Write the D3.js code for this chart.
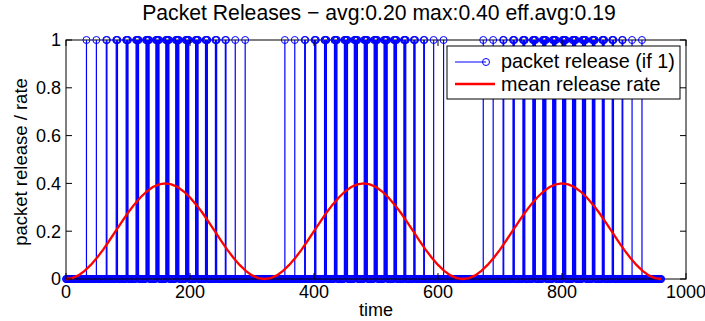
<!DOCTYPE html>
<html><head><meta charset="utf-8">
<script src="https://cdn.jsdelivr.net/npm/d3@7"></script>
<style>body{margin:0;background:#fff}svg{display:block}text{font-family:"Liberation Sans",Arial,sans-serif;fill:#000}</style>
</head><body><svg id="c" width="705" height="321"></svg>
<script>
// ---- data ----
const timeRange = [0, 960];                       // sampled time steps
const releaseStarts = [33,49,65,81,97,113,129,145,161,177,193,209,225,241,257,273,289,
  353,369,385,401,417,433,449,465,481,497,513,529,545,561,577,593,609,
  673,689,705,721,737,753,769,785,801,817,833,849,865,881,897,913,929];
const releaseCounts = [1,1,2,3,4,5,6,6,6,6,6,5,4,3,2,1,1,
  1,1,2,3,4,5,6,6,6,6,6,5,4,3,2,1,1,
  1,1,2,3,4,5,6,6,6,6,6,5,4,3,2,1,1];
const rateTimes = d3.range(0, 961, 10);
const rateValues = [0,0.004,0.015,0.034,0.059,0.089,0.123,0.161,0.200,0.239,0.277,0.311,0.341,0.366,0.385,0.396,0.400,0.396,0.385,0.366,0.341,0.311,0.277,0.239,0.200,0.161,0.123,0.089,0.059,0.034,0.015,0.004,
  0,0.004,0.015,0.034,0.059,0.089,0.123,0.161,0.200,0.239,0.277,0.311,0.341,0.366,0.385,0.396,0.400,0.396,0.385,0.366,0.341,0.311,0.277,0.239,0.200,0.161,0.123,0.089,0.059,0.034,0.015,0.004,
  0,0.004,0.015,0.034,0.059,0.089,0.123,0.161,0.200,0.239,0.277,0.311,0.341,0.366,0.385,0.396,0.400,0.396,0.385,0.366,0.341,0.311,0.277,0.239,0.200,0.161,0.123,0.089,0.059,0.034,0.015,0.004,0];
const xTicks = [0,200,400,600,800,1000];
const yTicks = [0,0.2,0.4,0.6,0.8,1];
const titleText = "Packet Releases \u2212 avg:0.20 max:0.40 eff.avg:0.19";
const legendLabels = ["packet release (if 1)", "mean release rate"];

// ---- build samples ----
const ones = new Set();
releaseStarts.forEach((s,i)=>{ for(let k=0;k<releaseCounts[i];k++) ones.add(s+k); });
const samples = d3.range(timeRange[0], timeRange[1]+1).map(t=>({t, v: ones.has(t)?1:0}));

const svg = d3.select("#c");
const L=66,R=686,T=40,B=279;
const x = d3.scaleLinear().domain([0,1000]).range([L,R]);
const y = d3.scaleLinear().domain([0,1]).range([B,T]);
const blue="#0000ff", red="#ff0000";
const fs=18;

// box
svg.append("rect").attr("x",L).attr("y",T).attr("width",R-L).attr("height",B-T).attr("fill","none").attr("stroke","#000").attr("stroke-width",1);

// stems
const g = svg.append("g");
g.selectAll("line.s").data(samples.filter(d=>d.v>0)).enter().append("line")
  .attr("x1",d=>x(d.t)).attr("x2",d=>x(d.t)).attr("y1",y(0)).attr("y2",d=>y(d.v))
  .attr("stroke",blue).attr("stroke-width",1.2);
g.selectAll("circle").data(samples).enter().append("circle")
  .attr("cx",d=>x(d.t)).attr("cy",d=>y(d.v)).attr("r",3.5)
  .attr("fill","none").attr("stroke",blue).attr("stroke-width",1);
// baseline
svg.append("line").attr("x1",x(0)).attr("x2",x(timeRange[1])).attr("y1",y(0)).attr("y2",y(0)).attr("stroke","#000");

// mean rate
svg.append("path").datum(rateTimes.map((t,i)=>[t,rateValues[i]]))
  .attr("d", d3.line().x(d=>x(d[0])).y(d=>y(d[1])))
  .attr("fill","none").attr("stroke",red).attr("stroke-width",2.3);

// ticks (inward, all sides)
const tl=6;
xTicks.forEach(v=>{
  svg.append("line").attr("x1",x(v)).attr("x2",x(v)).attr("y1",B).attr("y2",B-tl).attr("stroke","#000");
  svg.append("line").attr("x1",x(v)).attr("x2",x(v)).attr("y1",T).attr("y2",T+tl).attr("stroke","#000");
  svg.append("text").attr("x",x(v)).attr("y",B+19).attr("text-anchor","middle").attr("font-size",fs).text(v);
});
yTicks.forEach(v=>{
  svg.append("line").attr("x1",L).attr("x2",L+tl).attr("y1",y(v)).attr("y2",y(v)).attr("stroke","#000");
  svg.append("line").attr("x1",R).attr("x2",R-tl).attr("y1",y(v)).attr("y2",y(v)).attr("stroke","#000");
  svg.append("text").attr("x",L-5).attr("y",y(v)).attr("dy","0.35em").attr("text-anchor","end").attr("font-size",fs).text(d3.format("~g")(v));
});

// labels
svg.append("text").attr("x",(L+R)/2 + 3).attr("y",20).attr("text-anchor","middle").attr("font-size",21.2).text(titleText);
svg.append("text").attr("x",(L+R)/2).attr("y",316).attr("text-anchor","middle").attr("font-size",fs).text("time");
svg.append("text").attr("transform","translate(27,162) rotate(-90)").attr("text-anchor","middle").attr("font-size",18.5).text("packet release / rate");

// legend
const lg = svg.append("g");
lg.append("rect").attr("x",447).attr("y",46).attr("width",233).attr("height",53).attr("fill","#fff").attr("stroke","#000");
lg.append("line").attr("x1",455).attr("x2",486).attr("y1",62).attr("y2",62).attr("stroke",blue);
lg.append("circle").attr("cx",486).attr("cy",62).attr("r",3.5).attr("fill","none").attr("stroke",blue);
lg.append("line").attr("x1",455).attr("x2",495).attr("y1",84).attr("y2",84).attr("stroke",red).attr("stroke-width",2.3);
lg.append("text").attr("x",501).attr("y",68).attr("font-size",19.8).text(legendLabels[0]);
lg.append("text").attr("x",501).attr("y",91).attr("font-size",19.8).text(legendLabels[1]);
</script></body></html>
